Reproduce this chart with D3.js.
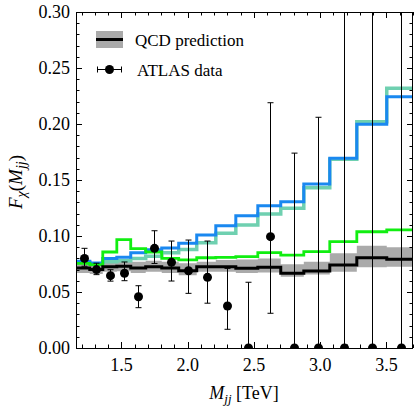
<!DOCTYPE html>
<html><head><meta charset="utf-8">
<script src="https://cdn.jsdelivr.net/npm/d3@7"></script>
<style>
html,body{margin:0;padding:0;background:#fff;}
text{font-family:"Liberation Serif","Times New Roman",serif;fill:#000;}
</style></head>
<body><svg id="c" width="414" height="409"></svg>
<script>
// Bin edges (TeV)
const binEdges = [1.15, 1.261, 1.359, 1.465, 1.570, 1.683, 1.804, 1.932, 2.068, 2.212, 2.363, 2.529, 2.702, 2.876, 3.072, 3.276, 3.502, 3.70];
// QCD prediction (central) and uncertainty band
const qcd     = [0.0715, 0.0700, 0.0725, 0.0730, 0.0715, 0.0725, 0.0715, 0.0690, 0.0726, 0.0726, 0.0712, 0.0721, 0.0667, 0.0688, 0.0741, 0.0806, 0.0792];
const qcdLo   = [0.0670, 0.0660, 0.0680, 0.0685, 0.0670, 0.0680, 0.0670, 0.0650, 0.0680, 0.0680, 0.0670, 0.0675, 0.0636, 0.0657, 0.0681, 0.0720, 0.0726];
const qcdHi   = [0.0760, 0.0750, 0.0770, 0.0780, 0.0770, 0.0780, 0.0770, 0.0756, 0.0770, 0.0785, 0.0790, 0.0800, 0.0747, 0.0771, 0.0845, 0.0914, 0.0900];
// Other model curves
const greenVals = [0.0755, 0.0745, 0.0857, 0.0967, 0.0887, 0.0857, 0.0800, 0.0786, 0.0806, 0.0810, 0.0815, 0.0851, 0.0830, 0.0860, 0.0949, 0.1038, 0.1054];
const blueVals  = [0.0775, 0.0760, 0.0800, 0.0810, 0.0850, 0.0878, 0.0893, 0.0935, 0.1010, 0.1092, 0.1180, 0.1270, 0.1306, 0.1464, 0.1694, 0.1997, 0.2244];
const tealVals  = [0.0765, 0.0750, 0.0770, 0.0780, 0.0800, 0.0820, 0.0850, 0.0880, 0.0940, 0.1024, 0.1098, 0.1196, 0.1247, 0.1431, 0.1685, 0.2020, 0.2319];
// ATLAS data
const dataX  = [1.215, 1.311, 1.412, 1.517, 1.623, 1.746, 1.872, 2.003, 2.142, 2.297, 2.453, 2.619, 2.800, 2.984, 3.180, 3.393, 3.613];
const dataY  = [0.0800, 0.0700, 0.0646, 0.0667, 0.0458, 0.0890, 0.0765, 0.0690, 0.0631, 0.0375, 0.0, 0.0994, 0.0, 0.0, 0.0, 0.0, 0.0];
const dataLo = [0.0730, 0.0655, 0.0597, 0.0601, 0.0360, 0.0755, 0.0598, 0.0488, 0.0400, 0.0167, 0.0, 0.0310, 0.0, 0.0, 0.0, 0.0, 0.0];
const dataHi = [0.0890, 0.0757, 0.0699, 0.0768, 0.0556, 0.1047, 0.0955, 0.0964, 0.0955, 0.0711, 0.0587, 0.2190, 0.1740, 0.2060, 0.3500, 0.4000, 0.4500];
// Axes ticks
const xTicks = [1.5, 2.0, 2.5, 3.0, 3.5];
const yTicks = [0.00, 0.05, 0.10, 0.15, 0.20, 0.25, 0.30];

const L = 76, R = 413, T = 12, B = 348;
const svg = d3.select("#c");
const x = d3.scaleLinear().domain([1.157, 3.70]).range([L, R]);
const y = d3.scaleLinear().domain([0, 0.30]).range([B, T]);

svg.append("defs").append("clipPath").attr("id","clip")
  .append("rect").attr("x",L).attr("y",T).attr("width",R-L).attr("height",B-T);
const plot = svg.append("g").attr("clip-path","url(#clip)");

function stepPts(vals){
  const p = vals.map((v,i)=>[binEdges[i], v]);
  p.push([binEdges[binEdges.length-1], vals[vals.length-1]]);
  return p;
}
const line = d3.line().x(d=>x(d[0])).y(d=>y(d[1])).curve(d3.curveStepAfter);
const bandPts = qcdLo.map((v,i)=>[binEdges[i], v, qcdHi[i]]);
bandPts.push([binEdges[binEdges.length-1], qcdLo[qcdLo.length-1], qcdHi[qcdHi.length-1]]);
const area = d3.area().x(d=>x(d[0])).y0(d=>y(d[1])).y1(d=>y(d[2])).curve(d3.curveStepAfter);

plot.append("path").attr("d", area(bandPts)).attr("fill","#aaaaaa");
plot.append("path").attr("d", line(stepPts(tealVals))).attr("fill","none").attr("stroke","#6fd0b0").attr("stroke-width",3.5);
plot.append("path").attr("d", line(stepPts(blueVals))).attr("fill","none").attr("stroke","#1a88f0").attr("stroke-width",3);
plot.append("path").attr("d", line(stepPts(greenVals))).attr("fill","none").attr("stroke","#11ee11").attr("stroke-width",2.8);
plot.append("path").attr("d", line(stepPts(qcd))).attr("fill","none").attr("stroke","#000").attr("stroke-width",3);

// error bars and points
const eb = plot.append("g");
dataX.forEach((xv,i)=>{
  const cx = Math.round(x(xv))+0.5;
  eb.append("line").attr("x1",cx).attr("x2",cx).attr("y1",y(dataLo[i])).attr("y2",y(dataHi[i])).attr("stroke","#000").attr("stroke-width",1);
  if (dataHi[i] < 0.3) eb.append("line").attr("x1",cx-3).attr("x2",cx+3).attr("y1",y(dataHi[i])).attr("y2",y(dataHi[i])).attr("stroke","#000").attr("stroke-width",1);
  if (dataLo[i] > 0) eb.append("line").attr("x1",cx-3).attr("x2",cx+3).attr("y1",y(dataLo[i])).attr("y2",y(dataLo[i])).attr("stroke","#000").attr("stroke-width",1);
  eb.append("circle").attr("cx",cx).attr("cy",y(dataY[i])).attr("r",4.5).attr("fill","#000");
});

// frame
svg.append("rect").attr("x",L+0.5).attr("y",T+0.5).attr("width",R-L-1).attr("height",B-T).attr("fill","none").attr("stroke","#000").attr("stroke-width",1);

// ticks
const ax = svg.append("g").attr("stroke","#000").attr("stroke-width",1);
const xMinor = d3.range(12, 38).map(d=>d/10);
xMinor.forEach(v=>{
  const major = xTicks.some(t=>Math.abs(t-v)<1e-6);
  const len = major ? 6 : 3.5;
  const px = Math.round(x(v))+0.5;
  ax.append("line").attr("x1",px).attr("x2",px).attr("y1",B).attr("y2",B-len);
  ax.append("line").attr("x1",px).attr("x2",px).attr("y1",T).attr("y2",T+len);
});
const yMinor = d3.range(0, 31).map(d=>d/100);
yMinor.forEach(v=>{
  const major = yTicks.some(t=>Math.abs(t-v)<1e-6);
  const len = major ? 6 : 3.5;
  const py = Math.round(y(v))+0.5;
  ax.append("line").attr("x1",L).attr("x2",L+len).attr("y1",py).attr("y2",py);
  ax.append("line").attr("x1",R).attr("x2",R-len).attr("y1",py).attr("y2",py);
});

// tick labels
xTicks.forEach(v=>{
  svg.append("text").attr("x",x(v)).attr("y",371).attr("text-anchor","middle").attr("font-size",18).text(d3.format(".1f")(v));
});
yTicks.forEach(v=>{
  svg.append("text").attr("x",70).attr("y",y(v)+6).attr("text-anchor","end").attr("font-size",18).text(d3.format(".2f")(v));
});

// axis titles
const xt = svg.append("text").attr("x",244).attr("y",399).attr("text-anchor","middle").attr("font-size",18);
xt.append("tspan").attr("font-style","italic").text("M");
xt.append("tspan").attr("font-style","italic").attr("font-size",13).attr("dy",4).text("jj");
xt.append("tspan").attr("dy",-4).text(" [TeV]");

const yt = svg.append("text").attr("transform","translate(22,182) rotate(-90)").attr("text-anchor","middle").attr("font-size",19);
yt.append("tspan").attr("font-style","italic").text("F");
yt.append("tspan").attr("font-style","italic").attr("font-size",14).attr("dy",4).text("χ");
yt.append("tspan").attr("dy",-4).text("(");
yt.append("tspan").attr("font-style","italic").text("M");
yt.append("tspan").attr("font-style","italic").attr("font-size",14).attr("dy",4).text("jj");
yt.append("tspan").attr("dy",-4).text(")");

// legend
const lg = svg.append("g");
lg.append("rect").attr("x",96).attr("y",31).attr("width",27).attr("height",17).attr("fill","#aaaaaa");
lg.append("line").attr("x1",96).attr("x2",123).attr("y1",39.5).attr("y2",39.5).attr("stroke","#000").attr("stroke-width",3);
lg.append("text").attr("x",135).attr("y",45.5).attr("font-size",17).text("QCD prediction");
lg.append("line").attr("x1",97).attr("x2",122).attr("y1",69.5).attr("y2",69.5).attr("stroke","#000").attr("stroke-width",1);
lg.append("line").attr("x1",97.5).attr("x2",97.5).attr("y1",66.5).attr("y2",72.5).attr("stroke","#000").attr("stroke-width",1);
lg.append("line").attr("x1",121.5).attr("x2",121.5).attr("y1",66.5).attr("y2",72.5).attr("stroke","#000").attr("stroke-width",1);
lg.append("circle").attr("cx",109.5).attr("cy",69.5).attr("r",4.5).attr("fill","#000");
lg.append("text").attr("x",137).attr("y",75.5).attr("font-size",17).text("ATLAS data");
</script></body></html>
